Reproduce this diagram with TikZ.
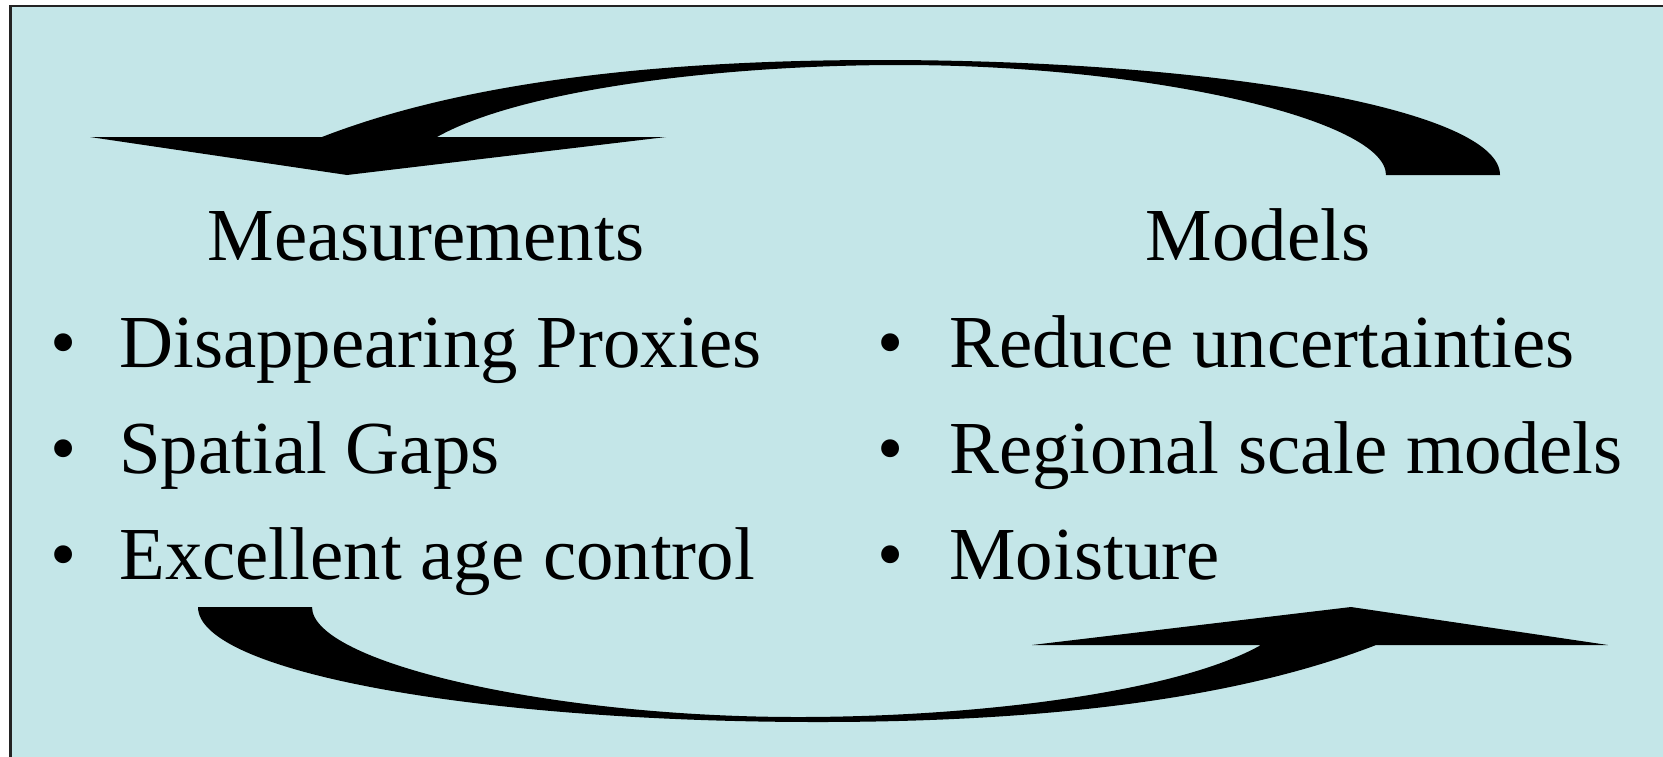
\documentclass[tikz,border=0pt]{standalone}
\usepackage{fontspec}
\setmainfont{Liberation Serif}
\definecolor{boxcyan}{RGB}{196,230,232}
\definecolor{boxedge}{RGB}{35,35,35}
\newcommand{\loopshape}{(90,137) -- (322,137) .. controls (430,95) and (600,60) .. (880,60)
  .. controls (1220,60) and (1500,110) .. (1500,175) -- (1386,175)
  .. controls (1386,120) and (1150,65) .. (900,65)
  .. controls (720,65) and (520,90) .. (437,137) -- (666,137) -- (347,175) -- cycle}
\tikzset{
  txt/.style={font=\fontsize{37.4}{44}\selectfont, inner sep=0pt},
  heading/.style={txt, anchor=base},
  item/.style={txt, anchor=base west},
  dot/.style={txt, anchor=base}
}

\begin{document}
\begin{tikzpicture}[x=0.5pt,y=-0.5pt]
		\useasboundingbox (0,0) rectangle (1663,756);
		\clip (0,0) rectangle (1663,756);
		\filldraw[fill=boxcyan,draw=boxedge,line width=1.1pt] (10.5,6) rectangle (1700,800);
		
		\fill[black] \loopshape;
		\fill[black,rotate around={180:(849,391)}] \loopshape;
		
		\node[heading] (measurements) at (426,260) {Measurements};
		\node[heading] (models) at (1258,260) {Models};
		
		\node[dot] (dotproxies) at (64,367) {•};
		\node[item] (proxies) at (119,367) {Disappearing Proxies};
		\node[dot] (dotgaps) at (64,473) {•};
		\node[item] (gaps) at (119,473) {Spatial Gaps};
		\node[dot] (dotage) at (64,579) {•};
		\node[item] (age) at (119,579) {Excellent age control};
		
		\node[dot] (dotreduce) at (891,367) {•};
		\node[item] (reduce) at (949,367) {Reduce uncertainties};
		\node[dot] (dotregional) at (891,473) {•};
		\node[item] (regional) at (949,473) {Regional scale models};
		\node[dot] (dotmoisture) at (891,579) {•};
		\node[item] (moisture) at (949,579) {Moisture};
	\end{tikzpicture}
\end{document}
